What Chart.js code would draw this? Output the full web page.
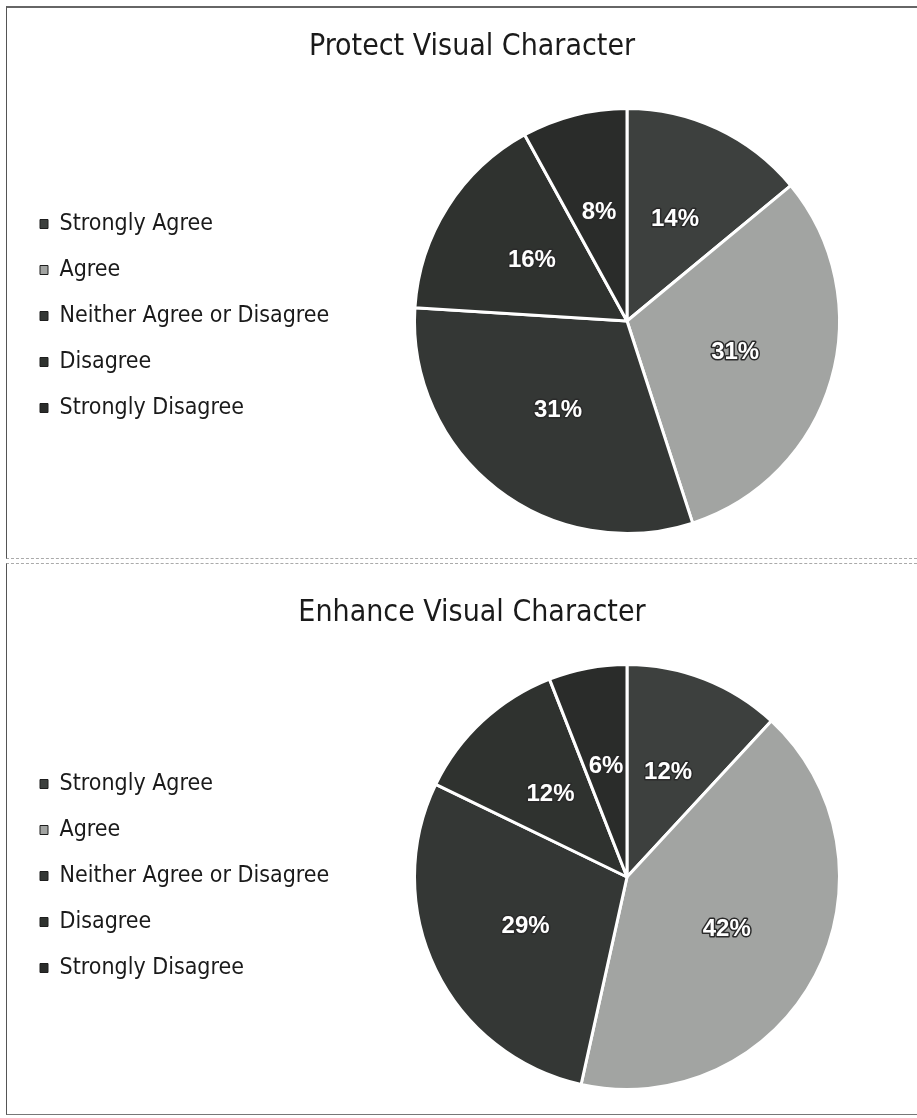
<!DOCTYPE html>
<html>
<head>
<meta charset="utf-8">
<script src="https://cdn.jsdelivr.net/npm/chart.js@4.4.1/dist/chart.umd.min.js"></script>
<style>
  html, body { margin: 0; padding: 0; background: #fff; }
  body { width: 917px; height: 1118px; position: relative; overflow: hidden; }
  .panel { position: absolute; left: 6px; width: 920px; height: 550px; overflow: hidden; border-left: 1px solid #555; }
  #p1 { top: 6px; border-top: 2px solid #666; border-bottom: 1px dashed #aaa; }
  #p2 { top: 563px; border-top: 1px dashed #aaa; border-bottom: 1px solid #777; }
  .panel canvas { position: absolute; left: 10px; top: 0; }
</style>
</head>
<body>
<div class="panel" id="p1"><canvas id="c1" width="910" height="550"></canvas></div>
<div class="panel" id="p2"><canvas id="c2" width="910" height="550"></canvas></div>
<script>
const categories = ['Strongly Agree', 'Agree', 'Neither Agree or Disagree', 'Disagree', 'Strongly Disagree'];
const protectValues = [14, 31, 31, 16, 8];
const enhanceValues = [12, 42, 29, 12, 6];
const sliceColors = ['#3d403e', '#a2a4a2', '#343735', '#2f322f', '#2a2c2a'];

const FONT = '"Liberation Sans Narrow", "DejaVu Sans Condensed", Roboto, sans-serif';

// put the pie where it sits in the scan, legend keeps its own box on the left
const pieBox = {
    id: 'pieBox',
    afterLayout(chart, args, opts) {
        const a = chart.chartArea;
        a.left = opts.cx - opts.r;
        a.right = opts.cx + opts.r;
        a.top = opts.cy - opts.r;
        a.bottom = opts.cy + opts.r;
        a.width = a.right - a.left;
        a.height = a.bottom - a.top;
    }
};

const pctLabels = {
    id: 'pctLabels',
    afterDatasetsDraw(chart) {
        const ctx = chart.ctx;
        const meta = chart.getDatasetMeta(0);
        const data = chart.data.datasets[0].data;
        ctx.save();
        ctx.font = 'bold 24px "Liberation Sans", Arial, sans-serif';
        ctx.textAlign = 'center';
        ctx.textBaseline = 'middle';
        ctx.lineJoin = 'round';
        meta.data.forEach((arc, i) => {
            const p = arc.getProps(['x', 'y', 'startAngle', 'endAngle', 'outerRadius'], true);
            const mid = (p.startAngle + p.endAngle) / 2;
            const d = p.outerRadius * 0.53;
            const x = p.x + Math.cos(mid) * d;
            const y = p.y + Math.sin(mid) * d;
            const txt = data[i] + '%';
            ctx.strokeStyle = '#2a2a2a';
            ctx.lineWidth = 3;
            ctx.strokeText(txt, x, y);
            ctx.fillStyle = '#ffffff';
            ctx.fillText(txt, x, y);
        });
        ctx.restore();
    }
};

function makePie(id, title, values, titlePad) {
    const ctx = document.getElementById(id).getContext('2d');
    return new Chart(ctx, {
        type: 'pie',
        data: {
            labels: categories,
            datasets: [{
                data: values,
                backgroundColor: sliceColors,
                borderColor: '#ffffff',
                borderWidth: 3
            }]
        },
        options: {
            responsive: false,
            animation: false,
            layout: { padding: { bottom: 7 } },
            plugins: {
                title: {
                    display: true,
                    text: title,
                    color: '#1a1a1a',
                    font: { family: FONT, size: 30, weight: 'normal' },
                    padding: titlePad
                },
                legend: {
                    position: 'left',
                    fullSize: false,
                    labels: {
                        color: '#1a1a1a',
                        font: { family: FONT, size: 23 },
                        boxWidth: 8,
                        boxHeight: 9,
                        padding: 23,
                        generateLabels(chart) {
                            const base = Chart.overrides.pie.plugins.legend.labels.generateLabels(chart);
                            return base.map(l => Object.assign(l, { strokeStyle: '#1e1e1e', lineWidth: 1 }));
                        }
                    }
                },
                tooltip: { enabled: false },
                pieBox: { cx: 610, cy: 313, r: 214 }
            }
        },
        plugins: [pieBox, pctLabels]
    });
}

makePie('c1', 'Protect Visual Character', protectValues, { top: 21, bottom: 16 });
makePie('c2', 'Enhance Visual Character', enhanceValues, { top: 31, bottom: 14 });
</script>
</body>
</html>
